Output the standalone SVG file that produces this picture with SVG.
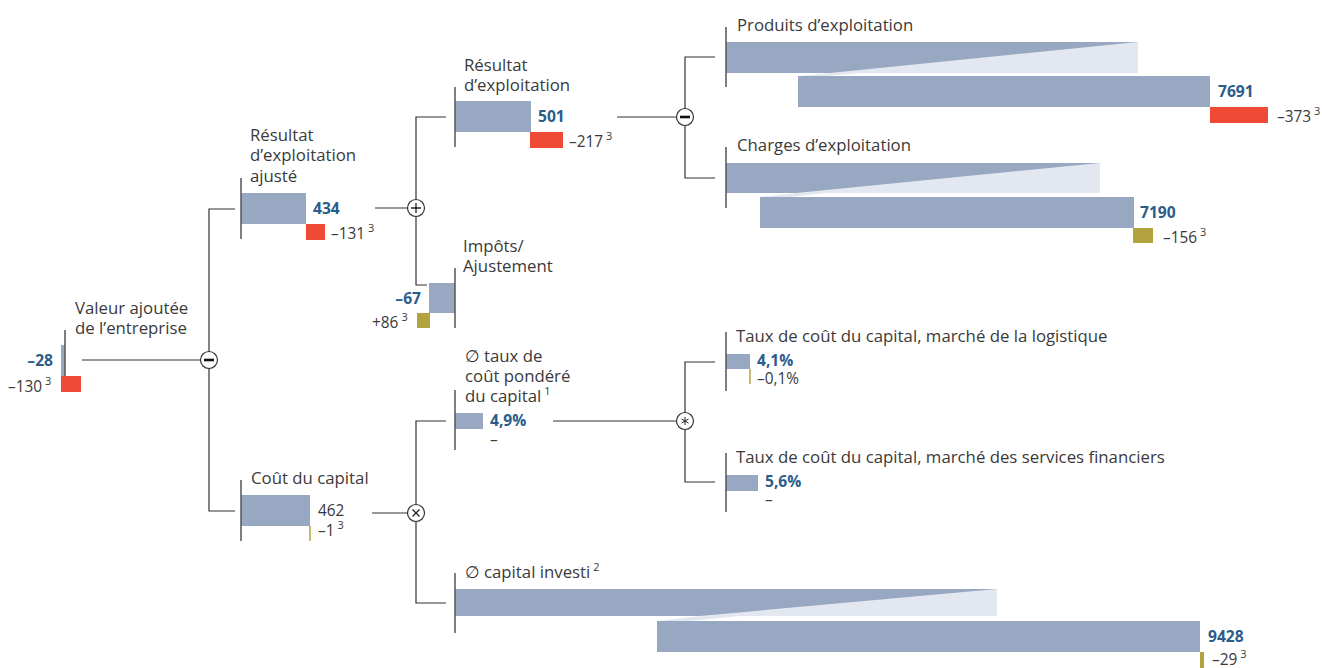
<svg xmlns="http://www.w3.org/2000/svg" width="1322" height="668" viewBox="0 0 1322 668">
  <style>
    text { font-family: "Open Sans", "Noto Sans", "DejaVu Sans", sans-serif; }
    .lbl { font-size: 16.8px; fill: #3a3a3a; }
    .val { font-size: 15.6px; font-weight: bold; fill: #2b5c8a; }
    .dv { font-size: 15.4px; fill: #3a3a3a; }
    .sup { font-size: 11px; }
    .axis { stroke: #555; stroke-width: 1.5; fill: none; }
    .con { stroke: #333; stroke-width: 1.2; fill: none; }
    .bar { fill: #99a8c2; }
    .ghost { fill: #e3e7f0; }
    .neg { fill: #ef4a36; }
    .gold { fill: #b2a33f; }
    .op { fill: #fff; stroke: #333; stroke-width: 1.2; }
    .sym { stroke: #222; stroke-width: 1.3; fill: none; }
    .star { stroke: #222; stroke-width: 1; fill: none; }
    .symb { stroke: #111; stroke-width: 2.6; fill: none; }
  </style>

  <!-- tree connectors and operators -->
  <g id="connectors">
    <path class="con" d="M82,360 H200"/>
    <path class="con" d="M235,209 H209 V511 H235"/>
    <path class="con" d="M375,208 H408"/>
    <path class="con" d="M446,117 H416 V285 H427"/>
    <path class="con" d="M617,117 H677"/>
    <path class="con" d="M715,57 H685 V178 H715"/>
    <path class="con" d="M372,513 H408"/>
    <path class="con" d="M446,421 H416 V603 H446"/>
    <path class="con" d="M553,421 H677"/>
    <path class="con" d="M715,362 H685 V482 H715"/>

    <circle class="op" cx="209" cy="360" r="8.5"/>
    <path class="symb" d="M204,360 H214"/>
    <circle class="op" cx="416" cy="208" r="8.5"/>
    <path class="sym" d="M411,208 H421 M416,203 V213"/>
    <circle class="op" cx="685" cy="117" r="8.5"/>
    <path class="symb" d="M680,117 H690"/>
    <circle class="op" cx="416" cy="513" r="8.5"/>
    <path class="sym" d="M412.5,509.5 L419.5,516.5 M419.5,509.5 L412.5,516.5"/>
    <circle class="op" cx="685" cy="421" r="8.5"/>
    <path class="star" d="M685,417 V425 M681.5,419 L688.5,423 M688.5,419 L681.5,423"/>
  </g>

  <!-- Valeur ajoutée de l'entreprise -->
  <g id="valeur-ajoutee">
    <rect class="bar" x="61" y="345" width="4" height="31"/>
    <rect class="neg" x="61" y="376" width="20" height="16"/>
    <line class="axis" x1="65" y1="330" x2="65" y2="376"/>
    <text class="lbl" x="75" y="314">Valeur ajoutée</text>
    <text class="lbl" x="75" y="334">de l’entreprise</text>
    <text class="val" x="53" y="366" text-anchor="end">–28</text>
    <text class="dv" x="8" y="392">–130<tspan class="sup" dx="3" dy="-7">3</tspan></text>
  </g>

  <!-- Résultat d'exploitation ajusté -->
  <g id="resultat-ajuste">
    <rect class="bar" x="241" y="193" width="65" height="31"/>
    <rect class="neg" x="306" y="224" width="19" height="16"/>
    <line class="axis" x1="241" y1="178" x2="241" y2="239"/>
    <text class="lbl" x="250" y="141">Résultat</text>
    <text class="lbl" x="250" y="161">d’exploitation</text>
    <text class="lbl" x="250" y="182">ajusté</text>
    <text class="val" x="313" y="214">434</text>
    <text class="dv" x="331" y="239">–131<tspan class="sup" dx="3" dy="-7">3</tspan></text>
  </g>

  <!-- Résultat d'exploitation -->
  <g id="resultat-exploitation">
    <rect class="bar" x="455" y="101" width="76" height="31"/>
    <rect class="neg" x="530" y="132" width="33" height="16"/>
    <line class="axis" x1="455" y1="87" x2="455" y2="147"/>
    <text class="lbl" x="464" y="71">Résultat</text>
    <text class="lbl" x="464" y="91">d’exploitation</text>
    <text class="val" x="538" y="122">501</text>
    <text class="dv" x="569" y="147">–217<tspan class="sup" dx="3" dy="-7">3</tspan></text>
  </g>

  <!-- Impôts / Ajustement -->
  <g id="impots">
    <rect class="bar" x="429" y="283" width="26" height="30"/>
    <rect class="gold" x="417" y="313" width="13" height="15"/>
    <line class="axis" x1="455" y1="268" x2="455" y2="328"/>
    <text class="lbl" x="463" y="252">Impôts/</text>
    <text class="lbl" x="463" y="272">Ajustement</text>
    <text class="val" x="421" y="304" text-anchor="end">–67</text>
    <text class="dv" x="372" y="328">+86<tspan class="sup" dx="3" dy="-7">3</tspan></text>
  </g>

  <!-- Produits d'exploitation -->
  <g id="produits">
    <rect class="ghost" x="726" y="42" width="412" height="31"/>
    <polygon class="ghost" points="798,76 830,73 860,73 826,76"/>
    <polygon class="bar" points="726,42 1138,42 830,73 726,73"/>
    <rect class="bar" x="798" y="76" width="412" height="31"/>
    <rect class="neg" x="1210" y="107" width="58" height="16"/>
    <line class="axis" x1="726" y1="27" x2="726" y2="87"/>
    <text class="lbl" x="737" y="31">Produits d’exploitation</text>
    <text class="val" x="1218" y="97">7691</text>
    <text class="dv" x="1277" y="122">–373<tspan class="sup" dx="3" dy="-7">3</tspan></text>
  </g>

  <!-- Charges d'exploitation -->
  <g id="charges">
    <rect class="ghost" x="726" y="163" width="374" height="30"/>
    <polygon class="ghost" points="760,197 796,193 826,193 790,197"/>
    <polygon class="bar" points="726,163 1100,163 796,193 726,193"/>
    <rect class="bar" x="760" y="197" width="374" height="31"/>
    <rect class="gold" x="1133" y="228" width="20" height="15"/>
    <line class="axis" x1="726" y1="147" x2="726" y2="208"/>
    <text class="lbl" x="737" y="151">Charges d’exploitation</text>
    <text class="val" x="1140" y="218">7190</text>
    <text class="dv" x="1163" y="243">–156<tspan class="sup" dx="3" dy="-7">3</tspan></text>
  </g>

  <!-- Coût du capital -->
  <g id="cout-capital">
    <rect class="bar" x="241" y="495" width="69" height="31"/>
    <line x1="310" y1="526" x2="310" y2="541" stroke="#b2a33f" stroke-width="1.5"/>
    <line class="axis" x1="241" y1="480" x2="241" y2="541"/>
    <text class="lbl" x="251" y="484">Coût du capital</text>
    <text class="dv" x="318" y="516">462</text>
    <text class="dv" x="318" y="536">–1<tspan class="sup" dx="3" dy="-7">3</tspan></text>
  </g>

  <!-- Taux de coût pondéré du capital -->
  <g id="taux-pondere">
    <rect class="bar" x="455" y="413" width="28" height="16"/>
    <line class="axis" x1="455" y1="390" x2="455" y2="450"/>
    <text class="lbl" x="465" y="362">∅ taux de</text>
    <text class="lbl" x="465" y="382">coût pondéré</text>
    <text class="lbl" x="465" y="402">du capital<tspan class="sup" dx="3" dy="-7">1</tspan></text>
    <text class="val" x="490" y="426">4,9%</text>
    <text class="dv" x="490" y="445">–</text>
  </g>

  <!-- Taux de coût du capital, logistique -->
  <g id="taux-logistique">
    <rect class="bar" x="726" y="354" width="24" height="15"/>
    <line x1="750" y1="369" x2="750" y2="384" stroke="#b2a33f" stroke-width="1.5"/>
    <line class="axis" x1="726" y1="332" x2="726" y2="391"/>
    <text class="lbl" x="736" y="342">Taux de coût du capital, marché de la logistique</text>
    <text class="val" x="757" y="366">4,1%</text>
    <text class="dv" x="757" y="384">–0,1%</text>
  </g>

  <!-- Taux de coût du capital, services financiers -->
  <g id="taux-services">
    <rect class="bar" x="726" y="475" width="32" height="16"/>
    <line class="axis" x1="726" y1="453" x2="726" y2="512"/>
    <text class="lbl" x="736" y="463">Taux de coût du capital, marché des services financiers</text>
    <text class="val" x="765" y="487">5,6%</text>
    <text class="dv" x="765" y="505">–</text>
  </g>

  <!-- Capital investi -->
  <g id="capital-investi">
    <rect class="ghost" x="455" y="589" width="542" height="27"/>
    <polygon class="ghost" points="657,621 700,616 740,616 690,621"/>
    <polygon class="bar" points="455,589 997,589 700,616 455,616"/>
    <rect class="bar" x="657" y="621" width="543" height="31"/>
    <rect class="gold" x="1200" y="652" width="4" height="16"/>
    <line class="axis" x1="455" y1="573" x2="455" y2="633"/>
    <text class="lbl" x="465" y="578">∅ capital investi<tspan class="sup" dx="3" dy="-7">2</tspan></text>
    <text class="val" x="1208" y="642">9428</text>
    <text class="dv" x="1212" y="665">–29<tspan class="sup" dx="3" dy="-7">3</tspan></text>
  </g>
</svg>
